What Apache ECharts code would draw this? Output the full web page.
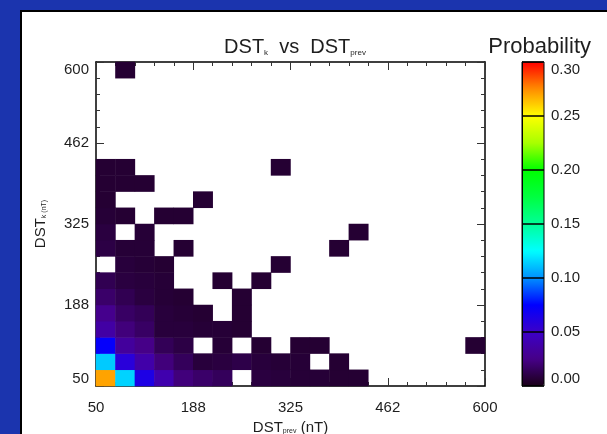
<!DOCTYPE html>
<html>
<head>
<meta charset="utf-8">
<script src="https://cdn.jsdelivr.net/npm/echarts@6/dist/echarts.min.js"></script>
<style>
html, body { margin: 0; padding: 0; background: #1b34ae; width: 607px; height: 434px; overflow: hidden; }
#panel { position: absolute; left: 20px; top: 10px; width: 620px; height: 450px; background: #fff; border: 2px solid #000; box-sizing: border-box; }
#chart { position: absolute; left: 0; top: 0; width: 607px; height: 434px; }
</style>
</head>
<body>
<div id="panel"></div>
<div id="chart"></div>
<script>
// bin centres of DST (nT), 20 bins from 50 to 600
const xBins = ['63.75', '91.25', '118.75', '146.25', '173.75', '201.25', '228.75', '256.25', '283.75', '311.25',
               '338.75', '366.25', '393.75', '421.25', '448.75', '476.25', '503.75', '531.25', '558.75', '586.25'];
const yBins = xBins.slice();
const tickLabels = ['50', '188', '325', '462', '600'];
const cbarLabels = ['0.00', '0.05', '0.10', '0.15', '0.20', '0.25', '0.30'];

// probability per cell, row 0 = lowest DST_k bin, null = empty
const _ = null;
const row0  = [0.27, 0.115, 0.063, 0.040, 0.022, 0.018, 0.015, _, 0.009, 0.008, 0.007, 0.007, 0.006, 0.006, _, _, _, _, _, _];
const row1  = [0.113, 0.058, 0.038, 0.022, 0.015, 0.008, 0.009, 0.011, 0.008, 0.007, 0.007, _, 0.006, _, _, _, _, _, _, _];
const row2  = [0.073, 0.033, 0.025, 0.014, 0.010, _, 0.007, _, 0.006, _, 0.006, 0.006, _, _, _, _, _, _, _, 0.006];
const row3  = [0.036, 0.022, 0.017, 0.008, 0.008, 0.007, 0.007, 0.006, _, _, _, _, _, _, _, _, _, _, _, _];
const row4  = [0.027, 0.017, 0.014, 0.008, 0.007, 0.006, _, 0.006, _, _, _, _, _, _, _, _, _, _, _, _];
const row5  = [0.018, 0.013, 0.009, 0.007, 0.006, _, _, 0.006, _, _, _, _, _, _, _, _, _, _, _, _];
const row6  = [0.013, 0.009, 0.008, 0.007, _, _, 0.006, _, 0.006, _, _, _, _, _, _, _, _, _, _, _];
const row7  = [_, 0.008, 0.007, 0.006, _, _, _, _, _, 0.006, _, _, _, _, _, _, _, _, _, _];
const row8  = [0.010, 0.007, 0.007, _, 0.006, _, _, _, _, _, _, _, 0.006, _, _, _, _, _, _, _];
const row9  = [0.009, _, 0.007, _, _, _, _, _, _, _, _, _, _, 0.006, _, _, _, _, _, _];
const row10 = [0.007, 0.006, _, 0.006, 0.006, _, _, _, _, _, _, _, _, _, _, _, _, _, _, _];
const row11 = [0.006, _, _, _, _, 0.006, _, _, _, _, _, _, _, _, _, _, _, _, _, _];
const row12 = [0.006, 0.006, 0.006, _, _, _, _, _, _, _, _, _, _, _, _, _, _, _, _, _];
const row13 = [0.006, 0.006, _, _, _, _, _, _, _, 0.006, _, _, _, _, _, _, _, _, _, _];
const row14 = [];
const row15 = [];
const row16 = [];
const row17 = [];
const row18 = [];
const row19 = [_, 0.006];

const rows = [row0, row1, row2, row3, row4, row5, row6, row7, row8, row9,
              row10, row11, row12, row13, row14, row15, row16, row17, row18, row19];

// colour table: black-purple-blue-cyan-green-yellow-red
const cmap = ['#1a0018', '#460088', '#3c00c8', '#0000ff', '#0090ff', '#00ffff', '#00ff98',
              '#00ff40', '#00ff00', '#a8ff00', '#ffff00', '#ff8c00', '#ff0000'];

const heatData = [];
rows.forEach((r, yi) => {
    r.forEach((v, xi) => {
        if (v != null) heatData.push([xi, yi, v]);
    });
});

const FONT = "'Liberation Sans', sans-serif";
const TXT = '#1e1e1e';

const frameAxis = (extra) => Object.assign({
    type: 'value',
    gridIndex: 0,
    min: 0,
    max: 20,
    interval: 5,
    axisLine: { show: true, lineStyle: { color: '#000', width: 1.5 } },
    axisTick: { show: true, inside: true, length: 8, lineStyle: { color: '#333' } },
    minorTick: { show: true, splitNumber: 5, length: 4, lineStyle: { color: '#333' } },
    splitLine: { show: false },
    axisLabel: { show: false }
}, extra);

const tickLabelStyle = {
    show: true,
    formatter: (v) => tickLabels[Math.round(v / 5)],
    fontSize: 15,
    fontFamily: FONT,
    color: TXT
};

const chart = echarts.init(document.getElementById('chart'));
chart.setOption({
    animation: false,
    backgroundColor: 'transparent',
    title: [{
        text: 'DST{s|k}  vs  DST{s|prev}',
        left: 290,
        top: 32,
        textAlign: 'center',
        textStyle: {
            fontSize: 20, fontWeight: 'normal', fontFamily: FONT, color: TXT,
            rich: { s: { fontSize: 8, fontFamily: FONT, color: TXT, verticalAlign: 'bottom', lineHeight: 8 } }
        }
    }, {
        text: 'Probability',
        left: 586,
        top: 31,
        textAlign: 'right',
        textStyle: { fontSize: 22, fontWeight: 'normal', fontFamily: FONT, color: TXT }
    }],
    grid: [
        { left: 96, top: 62, width: 389, height: 324, outerBoundsMode: 'none', containLabel: false },
        {
            left: 522, top: 62, width: 22, height: 324, outerBoundsMode: 'none', containLabel: false,
            show: true, borderColor: '#000', borderWidth: 1, backgroundColor: 'transparent', z: 10
        }
    ],
    xAxis: [
        { type: 'category', gridIndex: 0, data: xBins, show: false },
        frameAxis({
            position: 'bottom',
            axisLabel: Object.assign({ margin: 14 }, tickLabelStyle),
            name: 'DST{s|prev} (nT)',
            nameLocation: 'middle',
            nameGap: 34,
            nameTextStyle: {
                fontSize: 15, fontFamily: FONT, color: TXT,
                rich: { s: { fontSize: 7, fontFamily: FONT, color: TXT, verticalAlign: 'bottom', lineHeight: 7 } }
            }
        }),
        frameAxis({ position: 'top' }),
        { type: 'value', gridIndex: 1, min: 0, max: 1, show: false }
    ],
    yAxis: [
        { type: 'category', gridIndex: 0, data: yBins, show: false },
        frameAxis({
            position: 'left',
            axisLabel: Object.assign({
                margin: 7,
                verticalAlignMinLabel: 'bottom',
                verticalAlignMaxLabel: 'top'
            }, tickLabelStyle),
            name: 'DST{s|k (nT)}',
            nameLocation: 'middle',
            nameRotate: 90,
            nameGap: 48,
            nameTextStyle: {
                fontSize: 15, fontFamily: FONT, color: TXT,
                rich: { s: { fontSize: 7, fontFamily: FONT, color: TXT, verticalAlign: 'bottom', lineHeight: 7 } }
            }
        }),
        frameAxis({ position: 'right' }),
        {
            type: 'value',
            gridIndex: 1,
            position: 'right',
            min: 0,
            max: 0.3,
            interval: 0.05,
            z: 10,
            axisLine: { show: true, lineStyle: { color: '#000', width: 1 } },
            axisTick: { show: false },
            splitLine: { show: true, lineStyle: { color: '#000', width: 1.5 } },
            axisLabel: {
                margin: 7,
                formatter: (v, i) => cbarLabels[i],
                verticalAlignMinLabel: 'bottom',
                verticalAlignMaxLabel: 'top',
                fontSize: 15, fontFamily: FONT, color: TXT
            }
        }
    ],
    visualMap: {
        type: 'continuous',
        min: 0,
        max: 0.3,
        seriesIndex: 0,
        dimension: 2,
        calculable: false,
        hoverLink: false,
        left: 522,
        top: 62,
        padding: 0,
        itemWidth: 22,
        itemHeight: 324,
        text: null,
        inRange: { color: cmap }
    },
    series: [{
        type: 'heatmap',
        xAxisIndex: 0,
        yAxisIndex: 0,
        data: heatData,
        itemStyle: { borderWidth: 0 },
        emphasis: { disabled: true },
        progressive: 0
    }]
});
</script>
</body>
</html>
